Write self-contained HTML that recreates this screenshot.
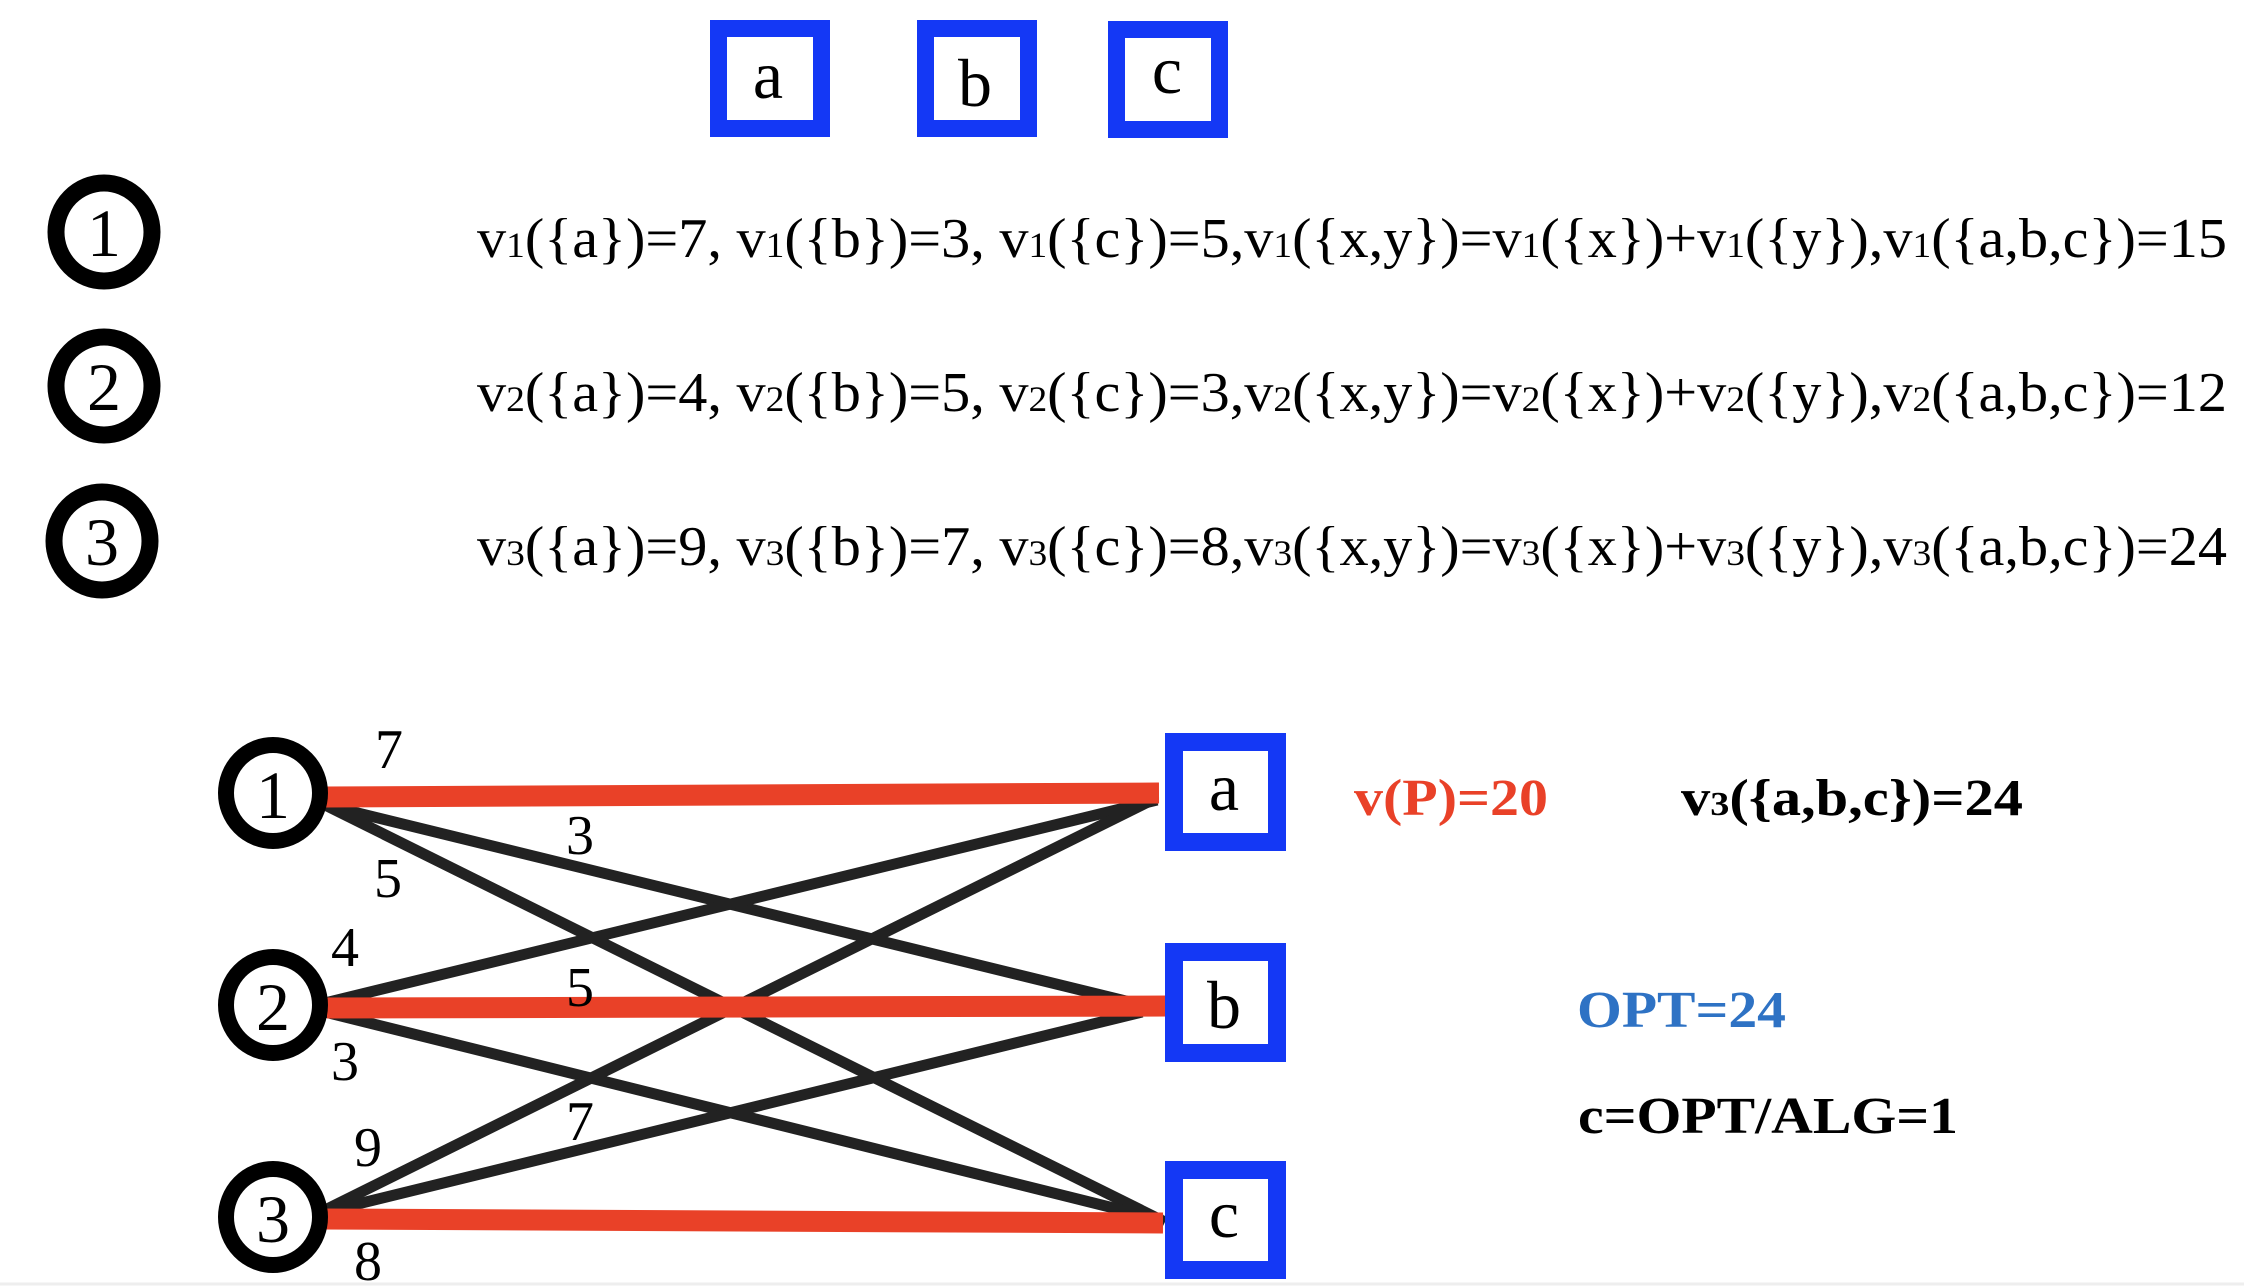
<!DOCTYPE html>
<html><head><meta charset="utf-8"><style>
html,body{margin:0;padding:0;background:#fff;}
svg{display:block;}
text{font-family:"Liberation Serif",serif;}
</style></head><body>
<svg width="2244" height="1286" viewBox="0 0 2244 1286" xmlns="http://www.w3.org/2000/svg">
<rect width="2244" height="1286" fill="#fff"/>
<g fill="#fff" stroke="#1438f5" stroke-width="17">
<rect x="718.5" y="28.5" width="103" height="100"/>
<rect x="925.5" y="28.5" width="103" height="100"/>
<rect x="1116.5" y="29.5" width="103" height="100"/>
</g>
<g font-size="68" text-anchor="middle">
<text x="768" y="98">a</text>
<text x="975" y="106">b</text>
<text x="1167" y="93">c</text>
</g>
<g fill="#fff" stroke="#000" stroke-width="17">
<ellipse cx="104" cy="232" rx="48" ry="49"/>
<ellipse cx="104" cy="386" rx="48" ry="49"/>
<ellipse cx="102" cy="541" rx="48" ry="49"/>
</g>
<g font-size="68" text-anchor="middle">
<text x="104" y="256">1</text>
<text x="104" y="410">2</text>
<text x="102" y="565">3</text>
</g>
<g font-size="56">
<text x="477" y="257" textLength="1750" lengthAdjust="spacingAndGlyphs">v<tspan font-size="36">1</tspan>({a})=7, v<tspan font-size="36">1</tspan>({b})=3, v<tspan font-size="36">1</tspan>({c})=5,v<tspan font-size="36">1</tspan>({x,y})=v<tspan font-size="36">1</tspan>({x})+v<tspan font-size="36">1</tspan>({y}),v<tspan font-size="36">1</tspan>({a,b,c})=15</text>
<text x="477" y="411" textLength="1750" lengthAdjust="spacingAndGlyphs">v<tspan font-size="36">2</tspan>({a})=4, v<tspan font-size="36">2</tspan>({b})=5, v<tspan font-size="36">2</tspan>({c})=3,v<tspan font-size="36">2</tspan>({x,y})=v<tspan font-size="36">2</tspan>({x})+v<tspan font-size="36">2</tspan>({y}),v<tspan font-size="36">2</tspan>({a,b,c})=12</text>
<text x="477" y="565" textLength="1750" lengthAdjust="spacingAndGlyphs">v<tspan font-size="36">3</tspan>({a})=9, v<tspan font-size="36">3</tspan>({b})=7, v<tspan font-size="36">3</tspan>({c})=8,v<tspan font-size="36">3</tspan>({x,y})=v<tspan font-size="36">3</tspan>({x})+v<tspan font-size="36">3</tspan>({y}),v<tspan font-size="36">3</tspan>({a,b,c})=24</text>
</g>
<g stroke="#222" stroke-width="11" stroke-linecap="butt">
<line x1="325" y1="805" x2="1142" y2="1005"/>
<line x1="325" y1="805" x2="1165" y2="1222"/>
<line x1="325" y1="1003" x2="1157" y2="800"/>
<line x1="325" y1="1012" x2="1162" y2="1220"/>
<line x1="325" y1="1210" x2="1152" y2="800"/>
<line x1="325" y1="1212" x2="1142" y2="1012"/>
</g>
<g stroke="#e94128" stroke-width="21">
<line x1="325" y1="797" x2="1159" y2="793"/>
<line x1="327" y1="1008" x2="1171" y2="1006"/>
<line x1="322" y1="1219" x2="1163" y2="1223"/>
</g>
<g fill="#fff" stroke="#000" stroke-width="16">
<ellipse cx="273" cy="793" rx="47" ry="48"/>
<ellipse cx="273" cy="1005" rx="47" ry="48"/>
<ellipse cx="273" cy="1217" rx="47" ry="48"/>
</g>
<g font-size="68" text-anchor="middle">
<text x="273" y="818">1</text>
<text x="273" y="1030">2</text>
<text x="273" y="1242">3</text>
</g>
<g fill="#fff" stroke="#1438f5" stroke-width="18">
<rect x="1174" y="742" width="103" height="100"/>
<rect x="1174" y="952" width="103" height="101"/>
<rect x="1174" y="1170" width="103" height="100"/>
</g>
<g font-size="68" text-anchor="middle">
<text x="1224" y="810">a</text>
<text x="1224" y="1028">b</text>
<text x="1224" y="1237">c</text>
</g>
<g font-size="56" text-anchor="middle">
<text x="389" y="768">7</text>
<text x="580" y="854">3</text>
<text x="388" y="897">5</text>
<text x="345" y="966">4</text>
<text x="580" y="1006">5</text>
<text x="345" y="1080">3</text>
<text x="368" y="1166">9</text>
<text x="580" y="1140">7</text>
<text x="368" y="1280">8</text>
</g>
<g font-size="52" font-weight="bold">
<text x="1354" y="815" fill="#e94128" textLength="194" lengthAdjust="spacingAndGlyphs">v(P)=20</text>
<text x="1681" y="815" fill="#000" textLength="342" lengthAdjust="spacingAndGlyphs">v<tspan font-size="34">3</tspan>({a,b,c})=24</text>
<text x="1577" y="1027" fill="#2e72c4" textLength="209" lengthAdjust="spacingAndGlyphs">OPT=24</text>
<text x="1578" y="1133" fill="#000" textLength="380" lengthAdjust="spacingAndGlyphs">c=OPT/ALG=1</text>
</g>
<line x1="0" y1="1284" x2="2244" y2="1284" stroke="#eee" stroke-width="3"/>
</svg>
</body></html>
